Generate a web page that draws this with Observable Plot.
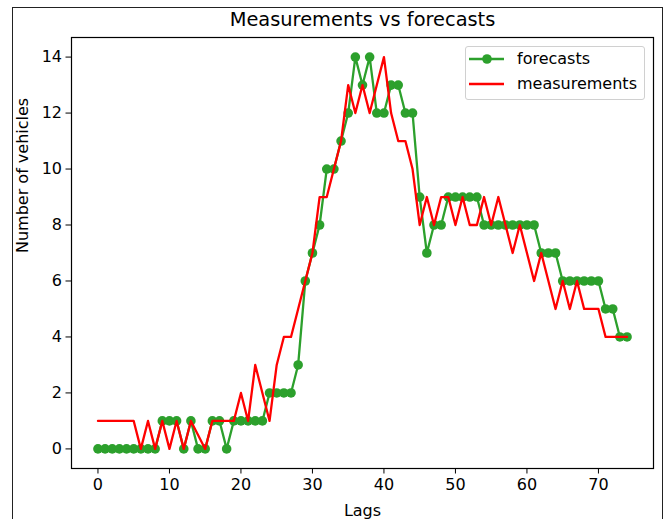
<!DOCTYPE html>
<html>
<head>
<meta charset="utf-8">
<script src="https://cdn.jsdelivr.net/npm/d3@7"></script>
<script src="https://cdn.jsdelivr.net/npm/@observablehq/plot@0.6"></script>
<style>
  html, body { margin: 0; padding: 0; background: #fff; }
  #wrap { position: relative; width: 665px; height: 519px; overflow: hidden; font-family: "DejaVu Sans", sans-serif; }
  #border { position: absolute; left: 12px; top: 7px; width: 651px; height: 520px; border: 1px solid #222; border-bottom: none; box-sizing: border-box; }
  #legend { position: absolute; left: 465px; top: 46px; width: 180px; height: 54px; border: 1px solid #d0d0d0; border-radius: 3px; background: #fff; box-sizing: border-box; }
  .lsym { position: absolute; left: 3px; }
  .ltxt { position: absolute; left: 51px; font-size: 16px; line-height: 20px; color: #000; white-space: nowrap; }
</style>
</head>
<body>
<div id="wrap">
  <div id="chart"></div>
  <div id="border"></div>
  <div id="legend"></div>
</div>
<script>
const lags = [0,1,2,3,4,5,6,7,8,9,10,11,12,13,14,15,16,17,18,19,20,21,22,23,24,25,26,27,28,29,30,31,32,33,34,35,36,37,38,39,40,41,42,43,44,45,46,47,48,49,50,51,52,53,54,55,56,57,58,59,60,61,62,63,64,65,66,67,68,69,70,71,72,73,74];
const forecasts = [0,0,0,0,0,0,0,0,0, 1,1,1, 0, 1, 0,0, 1,1, 0, 1,1,1,1,1, 2,2,2,2, 3, 6, 7, 8, 10,10, 11, 12, 14, 13, 14, 12,12, 13,13, 12,12, 9, 7, 8,8, 9,9,9,9,9, 8,8,8,8,8,8,8,8, 7,7,7, 6,6,6,6,6,6, 5,5, 4,4];
const measurements = [1,1,1,1,1,1, 0, 1, 0, 1, 0, 1, 0, 1, 0.5, 0, 1,1,1,1, 2, 1, 3, 2, 1, 3, 4,4, 5, 6, 7, 9, 9, 10, 11, 13, 12, 13, 12, 13, 14, 12, 11, 11, 10, 8, 9, 8, 9, 9, 8, 9, 8, 8, 9, 8, 9, 8, 7, 8, 7, 6, 7, 6, 5, 6, 5, 6, 5, 5, 5, 4,4,4,4];
const xTicks = [0,10,20,30,40,50,60,70];
const yTicks = [0,2,4,6,8,10,12,14];
const seriesNames = ["forecasts", "measurements"];
const seriesColors = ["#2ca02c", "#ff0000"];
const titleText = "Measurements vs forecasts";
const xLabel = "Lags";
const yLabel = "Number of vehicles";

const fc = lags.map((x, i) => ({x, y: forecasts[i]}));
const ms = lags.map((x, i) => ({x, y: measurements[i]}));

const chart = Plot.plot({
  width: 665,
  height: 519,
  marginLeft: 71,
  marginRight: 12,
  marginTop: 37,
  marginBottom: 51,
  style: {fontFamily: "DejaVu Sans", fontSize: "16px", color: "#000", background: "transparent"},
  x: {domain: [-3.7, 77.7]},
  y: {domain: [-0.7, 14.7]},
  marks: [
    Plot.line(fc, {x: "x", y: "y", stroke: seriesColors[0], strokeWidth: 2.3}),
    Plot.dot(fc, {x: "x", y: "y", fill: seriesColors[0], r: 4.8, stroke: "none"}),
    Plot.line(ms, {x: "x", y: "y", stroke: seriesColors[1], strokeWidth: 2.3}),
    Plot.frame({stroke: "#000", strokeWidth: 1.2}),
    Plot.axisX({ticks: xTicks, tickSize: 5.5, tickPadding: 5, label: null, fontSize: 16, tickFormat: d => String(d)}),
    Plot.axisY({ticks: yTicks, tickSize: 5.5, tickPadding: 4, label: null, fontSize: 16, tickFormat: d => String(d)}),
    Plot.text([titleText], {frameAnchor: "top", dy: -18, lineAnchor: "middle", fontSize: 19.4, fill: "#000"}),
    Plot.text([xLabel], {frameAnchor: "bottom", dy: 42, lineAnchor: "middle", fontSize: 16, fill: "#000"}),
    Plot.text([yLabel], {frameAnchor: "left", dx: -49, rotate: -90, lineAnchor: "middle", fontSize: 16, fill: "#000"})
  ]
});
document.getElementById("chart").appendChild(chart);

const legend = document.getElementById("legend");
seriesNames.forEach((name, i) => {
  const top = (i === 0 ? 2 : 27);
  const sym = document.createElement("div");
  sym.className = "lsym";
  sym.style.top = top + "px";
  const marker = i === 0 ? `<circle cx="18" cy="10" r="4.8" fill="${seriesColors[i]}"/>` : "";
  sym.innerHTML = `<svg width="35" height="20"><line x1="0" x2="35" y1="10" y2="10" stroke="${seriesColors[i]}" stroke-width="2.3"/>${marker}</svg>`;
  const txt = document.createElement("div");
  txt.className = "ltxt";
  txt.style.top = top + "px";
  txt.textContent = name;
  legend.appendChild(sym);
  legend.appendChild(txt);
});
</script>
</body>
</html>
